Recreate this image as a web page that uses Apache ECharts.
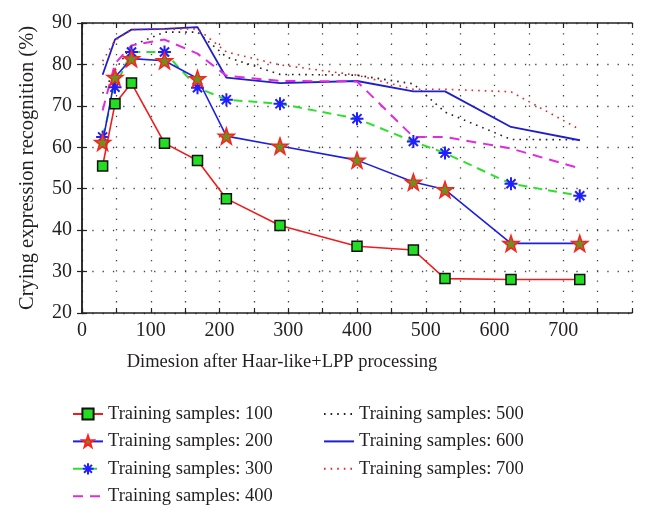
<!DOCTYPE html>
<html><head><meta charset="utf-8">
<script src="https://cdn.jsdelivr.net/npm/echarts@6/dist/echarts.min.js"></script>
<style>html,body{margin:0;padding:0;background:#fff}#c{width:647px;height:520px}</style>
</head><body><div id="c"></div>
<script>
const dims = [30, 48, 72, 120, 168, 210, 288, 400, 482, 528, 624, 724];
const names = ['Training samples: 100','Training samples: 200','Training samples: 300','Training samples: 400','Training samples: 500','Training samples: 600','Training samples: 700'];
const s100 = [55.5, 70.5, 75.5, 61.0, 56.8, 47.6, 41.1, 36.1, 35.2, 28.3, 28.1, 28.1];
const s200 = [61.2, 76.9, 81.4, 80.9, 76.6, 62.7, 60.3, 56.9, 51.6, 49.8, 36.8, 36.8];
const s300 = [62.5, 74.5, 83.0, 83.0, 74.4, 71.5, 70.5, 66.9, 61.4, 58.6, 51.2, 48.3];
const s400 = [68.9, 80.2, 84.6, 86.0, 82.6, 77.3, 76.0, 75.9, 62.5, 62.5, 59.7, 54.9];
const s500 = [73.0, 78.6, 84.5, 87.8, 87.8, 81.8, 77.6, 77.4, 75.3, 68.5, 61.9, 61.8];
const s600 = [77.5, 86.0, 88.4, 88.6, 89.0, 76.8, 75.5, 76.0, 73.5, 73.5, 64.9, 61.7];
const s700 = [80.8, 85.8, 88.4, 88.5, 88.6, 83.0, 79.9, 77.4, 74.0, 74.0, 73.4, 64.3];
const xTickLabels = [0, 100, 200, 300, 400, 500, 600, 700];

const pts = arr => arr.map((v, i) => [dims[i], v]);
const FONT = 'Liberation Serif';
const TXT = '#231f20';
const STAR = 'path://M0,-10L2.35,-3.24L9.51,-3.09L3.8,1.24L5.88,8.09L0,4L-5.88,8.09L-3.8,1.24L-9.51,-3.09L-2.35,-3.24Z';
const AST = 'path://M0,-10L0,10M-10,0L10,0M-7,-7L7,7M-7,7L7,-7';
const HIDE = {color: 'rgba(0,0,0,0)', borderWidth: 0, opacity: 0};

const chart = echarts.init(document.getElementById('c'), null, {renderer: 'canvas'});
const gridDot = {show: true, lineStyle: {color: '#444', width: 1.3, type: [1.3, 9]}};
const legText = {fontFamily: FONT, fontSize: 18.5, color: TXT, lineHeight: 20};
chart.setOption({
  animation: false,
  backgroundColor: '#fff',
  grid: {left: 82, right: 15, top: 23, bottom: 207, containLabel: false},
  legend: [
    {data: names.slice(0, 4), orient: 'vertical', left: 67, top: 399, itemWidth: 30, itemHeight: 14, itemGap: 7.4,
     textStyle: legText},
    {data: names.slice(4), orient: 'vertical', left: 318, top: 399, itemWidth: 30, itemHeight: 14, itemGap: 7.4,
     textStyle: legText}
  ],
  xAxis: [
    {type: 'value', min: 0, max: 800, interval: 50,
     name: 'Dimesion after Haar-like+LPP processing', nameLocation: 'middle', nameGap: 40,
     nameTextStyle: {fontFamily: FONT, fontSize: 18.5, color: TXT, padding: [0, 150, 0, 0]},
     axisLine: {show: true, lineStyle: {color: '#222', width: 1.5}},
     axisTick: {show: true, inside: true, length: 5, lineStyle: {color: '#222', width: 1.2}},
     axisLabel: {fontFamily: FONT, fontSize: 20, color: TXT, margin: 8,
       formatter: v => xTickLabels.includes(v) ? String(v) : ''},
     splitLine: gridDot},
    {type: 'value', min: 0, max: 800, interval: 50, position: 'top',
     axisLine: {show: true, lineStyle: {color: '#222', width: 1.5}},
     axisTick: {show: true, inside: true, length: 5, lineStyle: {color: '#222', width: 1.2}},
     axisLabel: {show: false}, splitLine: {show: false}}
  ],
  yAxis: [
    {type: 'value', min: 20, max: 90, interval: 10,
     name: 'Crying expression recognition (%)', nameLocation: 'middle', nameGap: 44, nameRotate: 90,
     nameTextStyle: {fontFamily: FONT, fontSize: 20.5, color: TXT},
     axisLine: {show: true, lineStyle: {color: '#222', width: 1.5}},
     axisTick: {show: true, inside: true, length: 5, lineStyle: {color: '#222', width: 1.2}},
     axisLabel: {fontFamily: FONT, fontSize: 20, color: TXT, margin: 10},
     splitLine: gridDot},
    {type: 'value', min: 20, max: 90, interval: 10, position: 'right',
     axisLine: {show: true, lineStyle: {color: '#222', width: 1.5}},
     axisTick: {show: true, inside: true, length: 5, lineStyle: {color: '#222', width: 1.2}},
     axisLabel: {show: false}, splitLine: {show: false}}
  ],
  series: [
    {name: names[0], type: 'line', data: pts(s100), z: 9, symbol: 'rect', symbolSize: 10,
     lineStyle: {color: '#ee1c1c', width: 1.6},
     itemStyle: {color: '#22dd22', borderColor: '#111', borderWidth: 1.5}},
    {name: names[1], type: 'line', data: pts(s200), z: 8, symbol: STAR, symbolSize: 16,
     lineStyle: {color: '#1f1fdd', width: 1.6},
     itemStyle: {color: '#6e8f1e', borderColor: '#ff2020', borderWidth: 1.5}},
    {name: names[2], type: 'line', data: pts(s300), z: 7, symbol: AST, symbolSize: 13,
     lineStyle: {color: '#2ee02e', width: 2, type: [9, 6]},
     itemStyle: {color: '#1f1fff', borderColor: '#1f1fff', borderWidth: 2}},
    {name: names[3], type: 'line', data: pts(s400), z: 6, symbol: 'none',
     lineStyle: {color: '#e02be0', width: 2, type: [10, 7]}, itemStyle: HIDE},
    {name: names[4], type: 'line', data: pts(s500), z: 5, symbol: 'none',
     lineStyle: {color: '#222', width: 1.6, type: [1.6, 5]}, itemStyle: HIDE},
    {name: names[5], type: 'line', data: pts(s600), z: 5, symbol: 'none',
     lineStyle: {color: '#1f1fcc', width: 1.8}, itemStyle: HIDE},
    {name: names[6], type: 'line', data: pts(s700), z: 5, symbol: 'none',
     lineStyle: {color: '#ee2222', width: 1.6, type: [1.6, 5]}, itemStyle: HIDE}
  ]
});
</script></body></html>
